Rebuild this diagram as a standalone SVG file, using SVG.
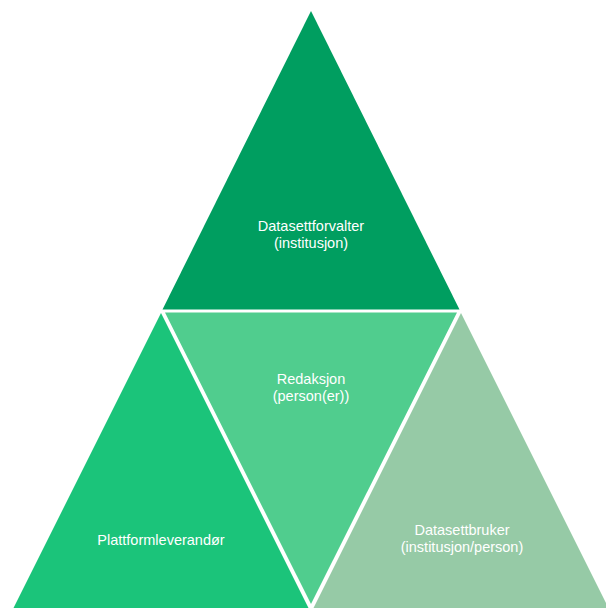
<svg xmlns="http://www.w3.org/2000/svg" width="606" height="608" viewBox="0 0 606 608">
<style>
text{font-family:"Liberation Sans","Open Sans",sans-serif;font-size:14.5px;fill:#ffffff;text-anchor:middle}
</style>
<rect width="606" height="608" fill="#ffffff"/>
<g id="datasettforvalter">
<polygon points="311,11 459.5,309.5 162.5,309.5" fill="#009E60"/>
<text x="311" y="231">Datasettforvalter</text>
<text x="311" y="248">(institusjon)</text>
</g>
<g id="plattformleverandor">
<polygon points="161,313 309.5,610 12.5,610" fill="#1BC47A"/>
<text x="161" y="545">Plattformleverandør</text>
</g>
<g id="redaksjon">
<polygon points="165,312.5 457,312.5 311,604" fill="#50CD8E"/>
<text x="311" y="384">Redaksjon</text>
<text x="311" y="401">(person(er))</text>
</g>
<g id="datasettbruker">
<polygon points="461,313 609.5,610 312.5,610" fill="#96CAA6"/>
<text x="462" y="535">Datasettbruker</text>
<text x="462" y="552">(institusjon/person)</text>
</g>
<g id="connectors"/>
</svg>
